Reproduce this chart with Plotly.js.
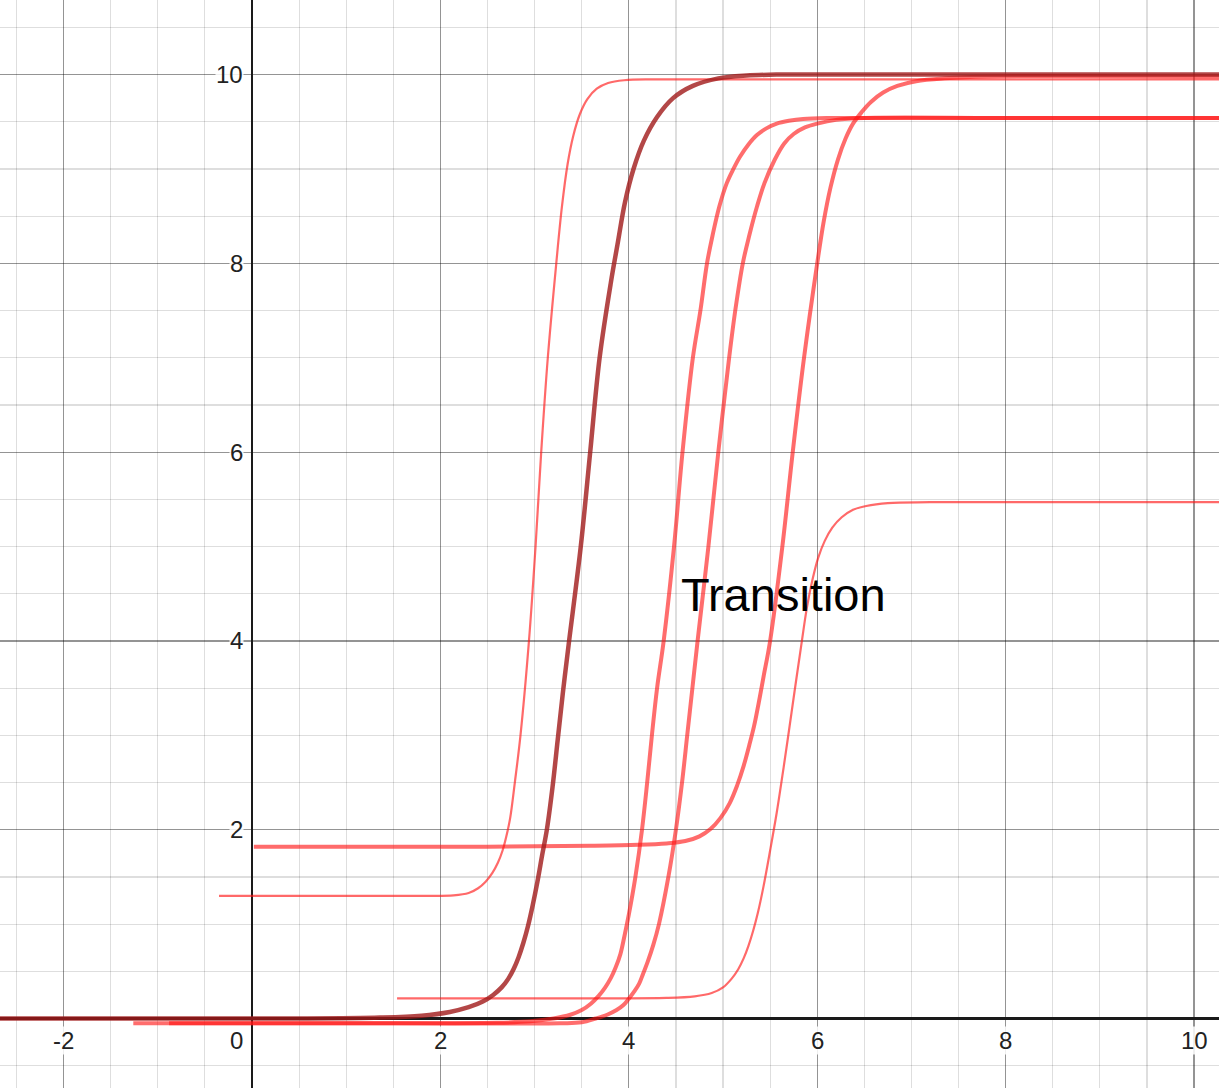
<!DOCTYPE html>
<html>
<head>
<meta charset="utf-8">
<script src="https://cdn.plot.ly/plotly-3.0.1.min.js"></script>
<style>
html,body{margin:0;padding:0;background:#fff;}
#chart{width:1219px;height:1088px;}
</style>
</head>
<body>
<div id="chart"></div>
<script>
// ---- data ----
// thin curve, low 1.3 -> high 9.95
var aX = [-0.35, 1.8, 2.14, 2.30, 2.40, 2.48, 2.55, 2.61, 2.66, 2.70, 2.74, 2.79, 2.85, 2.94, 3.01, 3.07, 3.14, 3.23, 3.29, 3.35, 3.41, 3.48, 3.56, 3.66, 3.78, 3.95, 4.3, 10.3];
var aY = [1.30, 1.30, 1.305, 1.33, 1.38, 1.45, 1.54, 1.65, 1.78, 1.93, 2.12, 2.5, 3.0, 4.0, 5.0, 6.0, 7.0, 8.0, 8.6, 9.05, 9.35, 9.58, 9.74, 9.85, 9.91, 9.94, 9.95, 9.95];
// dark thick curve, 0 -> 10
var bX = [-2.7, 0.5, 1.36, 1.8, 2.1, 2.3, 2.45, 2.56, 2.65, 2.72, 2.78, 2.83, 2.88, 2.93, 2.98, 3.03, 3.08, 3.13, 3.19, 3.245, 3.30, 3.36, 3.49, 3.59, 3.69, 3.81, 3.88, 3.96, 4.05, 4.16, 4.30, 4.47, 4.68, 4.95, 5.25, 5.6, 6.2, 10.3];
var bY = [0, 0, 0.01, 0.03, 0.07, 0.12, 0.18, 0.25, 0.33, 0.42, 0.53, 0.65, 0.80, 0.98, 1.2, 1.45, 1.73, 2.0, 2.45, 2.95, 3.45, 3.95, 5.0, 6.0, 7.0, 7.8, 8.2, 8.65, 9.0, 9.3, 9.55, 9.75, 9.88, 9.96, 9.99, 10.0, 10.0, 10.0];
// thick curve, -0.05 -> 9.54 (left one)
var c1X = [-1.26, 1.0, 2.6, 2.95, 3.2, 3.38, 3.5, 3.6, 3.68, 3.75, 3.81, 3.86, 3.91, 3.955, 4.0, 4.07, 4.14, 4.195, 4.245, 4.30, 4.37, 4.48, 4.57, 4.68, 4.76, 4.83, 4.89, 4.96, 5.04, 5.11, 5.18, 5.27, 5.36, 5.46, 5.57, 5.70, 5.85, 6.1, 6.6, 10.3];
var c1Y = [-0.05, -0.05, -0.045, -0.03, 0.0, 0.04, 0.09, 0.16, 0.24, 0.33, 0.43, 0.54, 0.68, 0.88, 1.1, 1.5, 2.0, 2.5, 3.0, 3.5, 4.0, 5.0, 6.0, 7.0, 7.5, 8.0, 8.3, 8.6, 8.85, 9.0, 9.13, 9.26, 9.36, 9.43, 9.48, 9.51, 9.53, 9.54, 9.54, 9.54];
// thick curve, -0.05 -> 9.54 (right one)
var c2X = [-0.88, 1.5, 3.27, 3.5, 3.65, 3.77, 3.87, 3.94, 4.0, 4.06, 4.11, 4.15, 4.20, 4.26, 4.32, 4.42, 4.50, 4.565, 4.62, 4.675, 4.73, 4.845, 4.95, 5.065, 5.13, 5.21, 5.28, 5.36, 5.44, 5.55, 5.65, 5.75, 5.87, 6.0, 6.2, 6.5, 8.0, 10.3];
var c2Y = [-0.05, -0.05, -0.05, -0.04, 0.0, 0.04, 0.09, 0.14, 0.21, 0.29, 0.37, 0.47, 0.60, 0.78, 1.0, 1.5, 2.0, 2.5, 3.0, 3.5, 4.0, 5.0, 6.0, 7.0, 7.5, 8.0, 8.3, 8.6, 8.85, 9.1, 9.27, 9.37, 9.44, 9.48, 9.52, 9.54, 9.54, 9.54];
// thick curve, 1.82 -> 9.98
var eX = [0.02, 2.5, 3.6, 4.1, 4.4, 4.6, 4.75, 4.87, 4.97, 5.07, 5.15, 5.22, 5.28, 5.33, 5.38, 5.43, 5.50, 5.63, 5.74, 5.86, 6.0, 6.07, 6.14, 6.22, 6.30, 6.38, 6.47, 6.57, 6.70, 6.85, 7.05, 7.35, 7.8, 10.3];
var eY = [1.82, 1.82, 1.83, 1.84, 1.855, 1.88, 1.93, 2.01, 2.12, 2.28, 2.47, 2.68, 2.90, 3.1, 3.35, 3.62, 4.0, 5.0, 6.0, 7.0, 8.0, 8.45, 8.8, 9.1, 9.32, 9.48, 9.6, 9.71, 9.81, 9.88, 9.93, 9.96, 9.98, 9.98];
// thin curve, 0.21 -> 5.47
var dX = [1.54, 3.5, 4.4, 4.7, 4.88, 5.0, 5.09, 5.16, 5.22, 5.27, 5.32, 5.37, 5.43, 5.50, 5.57, 5.63, 5.69, 5.76, 5.83, 5.89, 5.95, 6.01, 6.08, 6.16, 6.26, 6.38, 6.52, 6.75, 7.2, 10.3];
var dY = [0.214, 0.214, 0.218, 0.235, 0.27, 0.33, 0.42, 0.52, 0.64, 0.77, 0.93, 1.12, 1.40, 1.78, 2.18, 2.57, 2.98, 3.47, 3.95, 4.35, 4.65, 4.88, 5.06, 5.2, 5.31, 5.39, 5.43, 5.46, 5.47, 5.47];

var xTickVals = [-2, 2, 4, 6, 8, 10];
var xTickText = ["-2", "2", "4", "6", "8", "10"];
var yTickVals = [2, 4, 6, 8, 10];
var yTickText = ["2", "4", "6", "8", "10"];
var originLabel = "0";
var noteText = "Transition";
var noteX = 5.64, noteY = 4.49;

// ---- chart ----
function curve(x, y, color, width) {
  return {x: x, y: y, type: 'scatter', mode: 'lines',
          line: {color: color, width: width, shape: 'spline', smoothing: 1},
          hoverinfo: 'skip'};
}
var traces = [
  curve(c1X, c1Y, 'rgba(255,20,20,0.62)', 4),
  curve(c2X, c2Y, 'rgba(255,20,20,0.62)', 4),
  curve(eX, eY, 'rgba(255,20,20,0.63)', 4),
  curve(dX, dY, 'rgba(255,20,20,0.64)', 2.2),
  curve(aX, aY, 'rgba(255,20,20,0.64)', 2.2),
  curve(bX, bY, 'rgba(160,25,25,0.8)', 4.5)
];

var tickFont = {family: 'Liberation Sans, Arial, sans-serif', size: 24, color: '#222'};
var ann = [];
xTickVals.forEach(function (v, i) {
  ann.push({x: v, y: 0, xref: 'x', yref: 'y', text: xTickText[i], showarrow: false,
            xanchor: 'center', yanchor: 'top', yshift: -7, font: tickFont,
            bgcolor: 'rgba(255,255,255,0.85)', borderpad: 0});
});
yTickVals.forEach(function (v, i) {
  ann.push({x: 0, y: v, xref: 'x', yref: 'y', text: yTickText[i], showarrow: false,
            xanchor: 'right', yanchor: 'middle', xshift: -8, font: tickFont,
            bgcolor: 'rgba(255,255,255,0.85)', borderpad: 0});
});
ann.push({x: 0, y: 0, xref: 'x', yref: 'y', text: originLabel, showarrow: false,
          xanchor: 'right', yanchor: 'top', xshift: -8, yshift: -7, font: tickFont,
          bgcolor: 'rgba(255,255,255,0.85)', borderpad: 0});
ann.push({x: noteX, y: noteY, xref: 'x', yref: 'y', text: noteText, showarrow: false,
          xanchor: 'center', yanchor: 'middle',
          font: {family: 'Liberation Sans, Arial, sans-serif', size: 47, color: '#000'}});

var axisCommon = {
  showticklabels: false, ticks: '', showline: false,
  showgrid: true, gridcolor: 'rgba(0,0,0,0.42)', gridwidth: 1.2,
  zeroline: true, zerolinecolor: '#1a1a1a', zerolinewidth: 2.6,
  dtick: 2, tick0: 0, fixedrange: true,
  minor: {dtick: 0.5, tick0: 0, showgrid: true, gridcolor: 'rgba(0,0,0,0.13)', gridwidth: 1.2, ticks: ''}
};
var layout = {
  width: 1219, height: 1088,
  margin: {l: 0, r: 0, t: 0, b: 0, pad: 0},
  paper_bgcolor: '#fff', plot_bgcolor: '#fff',
  showlegend: false,
  xaxis: Object.assign({}, axisCommon, {range: [-2.675, 10.265]}),
  yaxis: Object.assign({}, axisCommon, {range: [-0.736, 10.79]}),
  annotations: ann
};
Plotly.newPlot('chart', traces, layout, {staticPlot: true, displayModeBar: false});
</script>
</body>
</html>
